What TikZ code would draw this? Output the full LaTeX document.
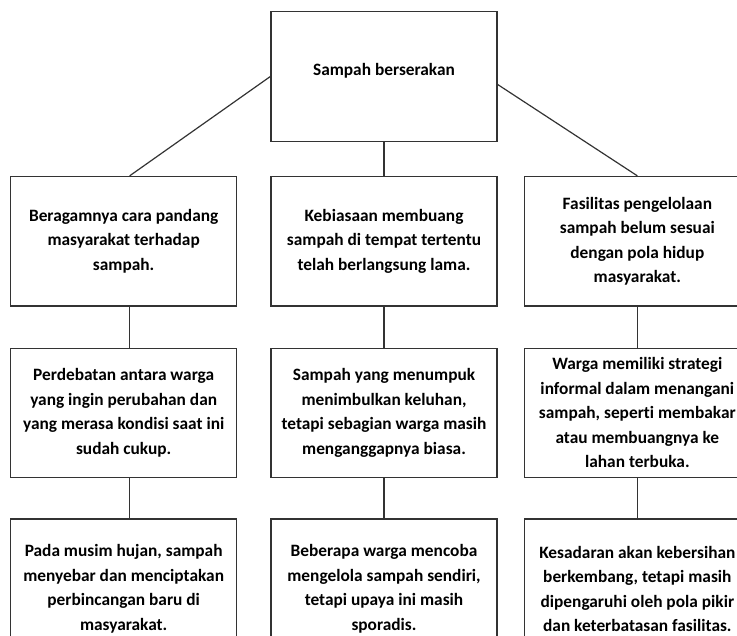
\documentclass[tikz,border=0pt]{standalone}
\usepackage{fontspec}
\setmainfont{Carlito}[Ligatures=NoCommon]
\usetikzlibrary{positioning}

\begin{document}
\begin{tikzpicture}[
        x=0.75pt, y=-0.75pt,
        block/.style={
            rectangle,
            draw=black!80,
            line width=1pt,
            minimum width=169.5pt,
            minimum height=97pt,
            align=center,
            font=\bfseries\fontsize{13}{18.4}\selectfont
        },
        link/.style={draw=black!80, line width=0.9pt}
    ]
    
    \useasboundingbox (0,0) rectangle (737,635);
    
    % Nodes
    \node[block, text depth=10pt] (top) at (384,76.5) {Sampah berserakan};
    
    \node[block, below=25.5pt of top] (viewmid) {Kebiasaan membuang\\sampah di tempat tertentu\\telah berlangsung lama.};
    \node[block, left=24.75pt of viewmid] (viewleft) {Beragamnya cara pandang\\masyarakat terhadap\\sampah.};
    \node[block, right=19.5pt of viewmid] (viewright) {Fasilitas pengelolaan\\sampah belum sesuai\\dengan pola hidup\\masyarakat.};
    
    \node[block, below=30.75pt of viewleft] (talkleft) {Perdebatan antara warga\\yang ingin perubahan dan\\yang merasa kondisi saat ini\\sudah cukup.};
    \node[block, below=30.75pt of viewmid] (talkmid) {Sampah yang menumpuk\\menimbulkan keluhan,\\tetapi sebagian warga masih\\menganggapnya biasa.};
    \node[block, below=30.75pt of viewright] (talkright) {Warga memiliki strategi\\informal dalam menangani\\sampah, seperti membakar\\atau membuangnya ke\\lahan terbuka.};
    
    \node[block, minimum height=105pt, below=30pt of talkleft] (endleft) {Pada musim hujan, sampah\\menyebar dan menciptakan\\perbincangan baru di\\masyarakat.};
    \node[block, minimum height=105pt, below=30pt of talkmid] (endmid) {Beberapa warga mencoba\\mengelola sampah sendiri,\\tetapi upaya ini masih\\sporadis.};
    \node[block, minimum height=105pt, below=30pt of talkright] (endright) {Kesadaran akan kebersihan\\berkembang, tetapi masih\\dipengaruhi oleh pola pikir\\dan keterbatasan fasilitas.};
    
    % Lines
    \draw[link] (top.west) -- ([xshift=4.5pt]viewleft.north);
    \draw[link] (top.south) -- (viewmid.north);
    \draw[link] ([yshift=-6pt]top.east) -- (viewright.north);
    
    \draw[link] ([xshift=4.5pt]viewleft.south) -- ([xshift=4.5pt]talkleft.north);
    \draw[link] (viewmid.south) -- (talkmid.north);
    \draw[link] (viewright.south) -- (talkright.north);
    
    \draw[link] ([xshift=4.5pt]talkleft.south) -- ([xshift=4.5pt]endleft.north);
    \draw[link] (talkmid.south) -- (endmid.north);
    \draw[link] (talkright.south) -- (endright.north);
    
\end{tikzpicture}
\end{document}
